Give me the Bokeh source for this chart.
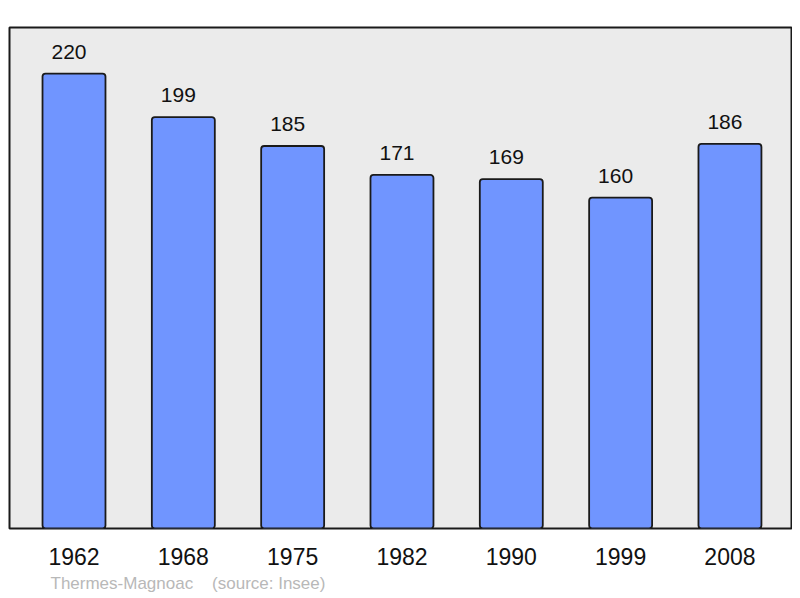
from bokeh.plotting import figure
from bokeh.models import ColumnDataSource, Range1d, FixedTicker, Title
from bokeh.embed import file_html
from bokeh.resources import INLINE
from bokeh.core.properties import value

years = ["1962", "1968", "1975", "1982", "1990", "1999", "2008"]
population = [220, 199, 185, 171, 169, 160, 186]
source_text = "Thermes-Magnoac\u00a0\u00a0\u00a0\u00a0(source: Insee)"

idx = list(range(len(years)))
src = ColumnDataSource(dict(x=idx, top=population, label=[str(v) for v in population]))

p = figure(width=792, height=596, output_backend="svg", toolbar_location=None,
           x_range=Range1d(-0.590, 6.563), y_range=Range1d(0, 242.3),
           min_border_left=9, min_border_right=1, min_border_top=27, min_border_bottom=60)
p.border_fill_color = "#ffffff"
p.background_fill_color = "#ebebeb"
p.outline_line_color = "#1a1a1a"
p.outline_line_width = 2
p.grid.visible = False
p.yaxis.visible = False

p.vbar(x="x", top="top", bottom=0, width=0.576, source=src,
       fill_color="#7095ff", line_color="#1a1a1a", line_width=1.8,
       border_radius=3)

p.text(x="x", y="top", text="label", source=src, text_align="center",
       text_baseline="middle", x_offset=-5, y_offset=-22,
       text_font=value("Liberation Sans"),
       text_font_size="21px", text_color="#111111")

ax = p.xaxis[0]
ax.ticker = FixedTicker(ticks=idx)
ax.major_label_overrides = {i: y for i, y in zip(idx, years)}
ax.axis_line_color = None
ax.major_tick_line_color = None
ax.minor_tick_line_color = None
ax.major_tick_out = 0
ax.major_tick_in = 0
ax.major_label_standoff = 19
ax.major_label_text_font = "Liberation Sans"
ax.major_label_text_font_size = "23px"
ax.major_label_text_color = "#111111"

p.add_layout(Title(text=source_text, align="left", offset=41, standoff=8,
                   text_font="Liberation Sans", text_font_size="17px",
                   text_font_style="normal", text_color="#b8b8b8"), "below")

open("out.html", "w").write(file_html(p, INLINE))
